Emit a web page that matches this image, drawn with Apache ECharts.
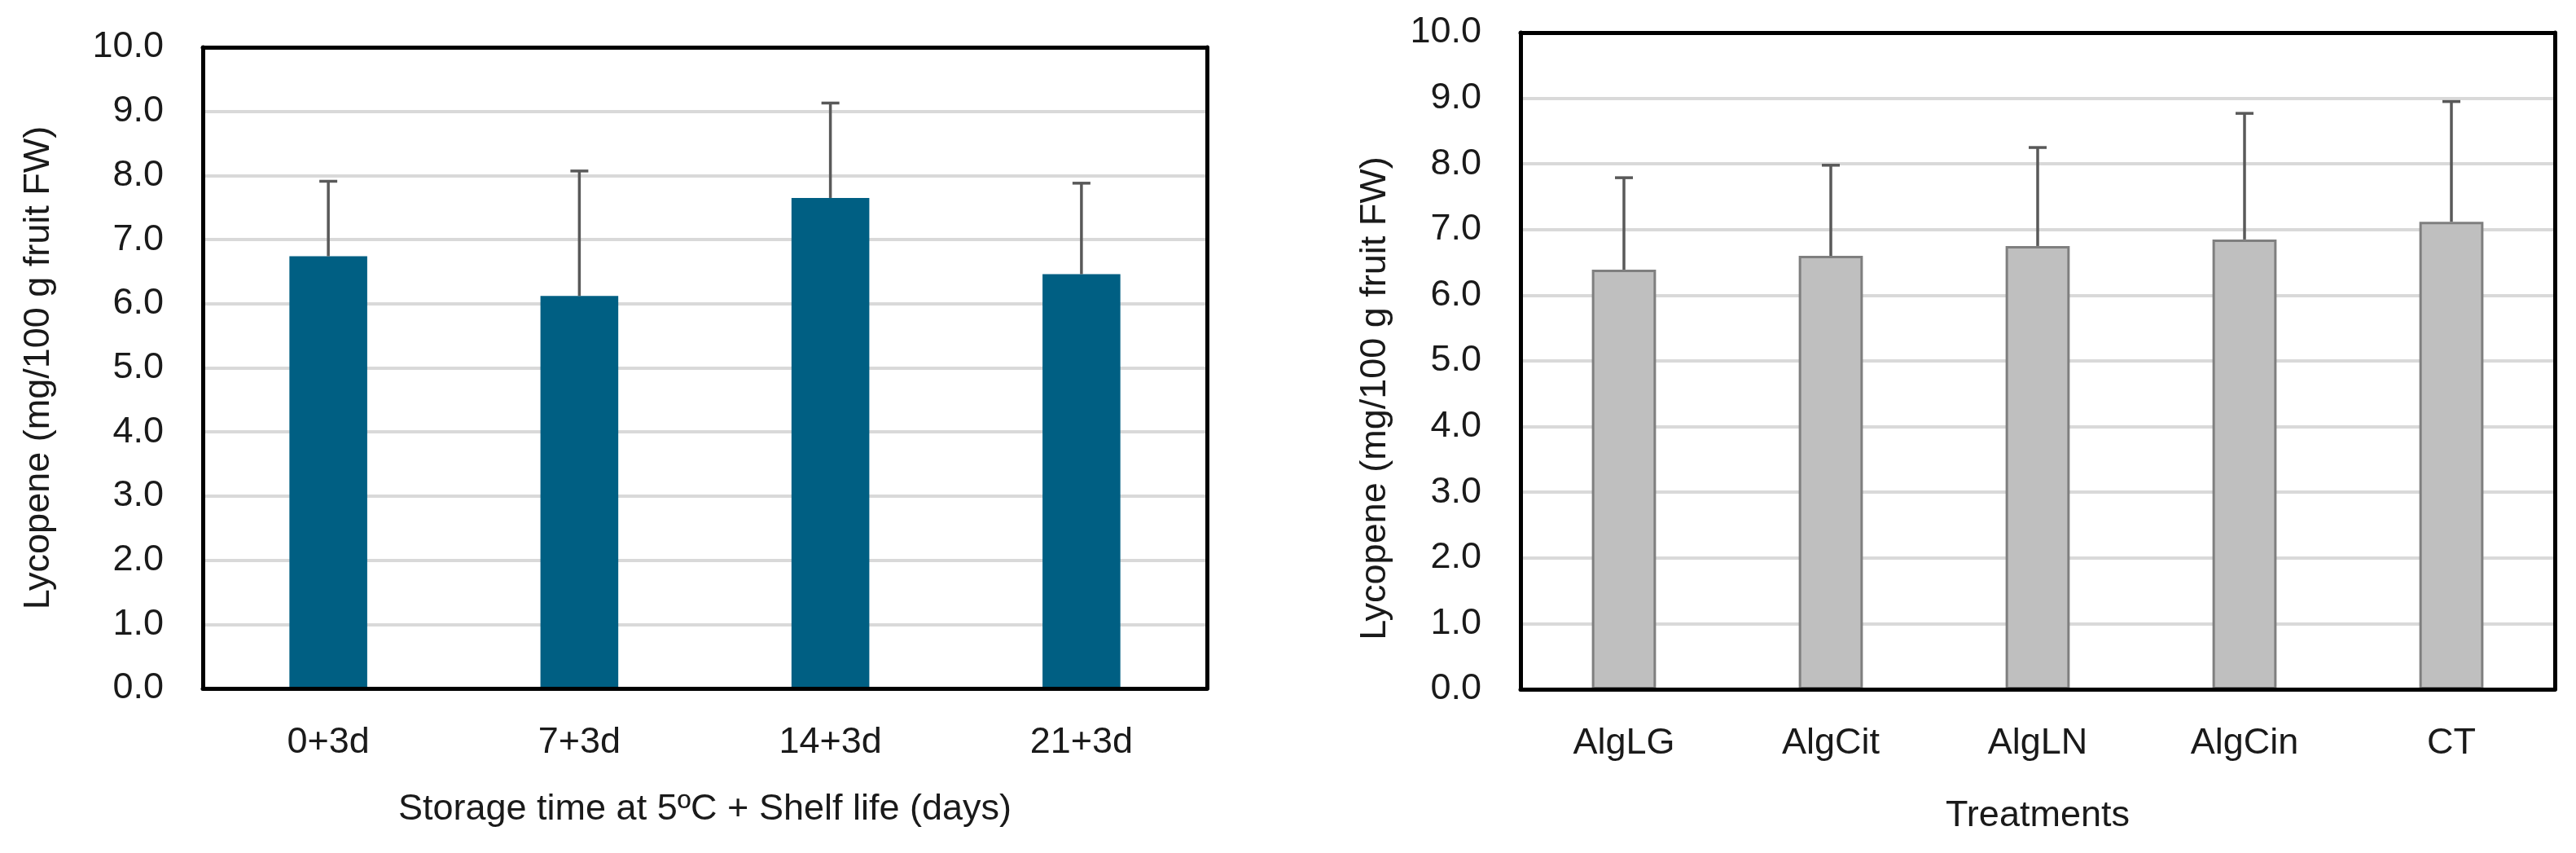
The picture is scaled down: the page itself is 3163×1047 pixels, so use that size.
<!DOCTYPE html>
<html>
<head>
<meta charset="utf-8">
<script src="https://cdn.jsdelivr.net/npm/echarts@6/dist/echarts.min.js"></script>
<style>
html,body{margin:0;padding:0;background:#fff;}
#c{width:3163px;height:1047px;}
</style>
</head>
<body>
<div id="c"></div>
<script>
// ---- data ----
var storageCats = ['0+3d', '7+3d', '14+3d', '21+3d'];
var storageMeans = [6.74, 6.12, 7.65, 6.46];
var storageSD = [1.17, 1.95, 1.48, 1.42];

var treatCats = ['AlgLG', 'AlgCit', 'AlgLN', 'AlgCin', 'CT'];
var treatMeans = [6.39, 6.60, 6.75, 6.85, 7.12];
var treatSD = [1.40, 1.38, 1.50, 1.92, 1.83];

var yTicks = ['0.0','1.0','2.0','3.0','4.0','5.0','6.0','7.0','8.0','9.0','10.0'];
var yTitle = 'Lycopene (mg/100 g fruit FW)';
var xTitleLeft = 'Storage time at 5ºC + Shelf life (days)';
var xTitleRight = 'Treatments';

// ---- chart ----
var FONT = '"Liberation Sans", Arial, sans-serif';
var TXT = '#1a1a1a';
var BORDER = { show: true, onZero: false, lineStyle: { color: '#000', width: 5 } };

function errData(means, sd) {
  return means.map(function (m, i) { return [i, m, m + sd[i]]; });
}
function errRender(params, api) {
  var x = api.value(0);
  var p0 = api.coord([x, api.value(1)]);
  var p1 = api.coord([x, api.value(2)]);
  var half = 11;
  var st = { stroke: '#595959', lineWidth: 3.5 };
  return {
    type: 'group',
    children: [
      { type: 'line', shape: { x1: p0[0], y1: p0[1], x2: p1[0], y2: p1[1] }, style: st },
      { type: 'line', shape: { x1: p1[0] - half, y1: p1[1], x2: p1[0] + half, y2: p1[1] }, style: st }
    ]
  };
}
function yAxisCfg(gridIndex, nameGap, pad) {
  return {
    type: 'value', gridIndex: gridIndex, min: 0, max: 10, interval: 1,
    name: yTitle, nameLocation: 'middle', nameGap: nameGap, nameRotate: 90,
    nameTextStyle: { fontFamily: FONT, fontSize: 45, color: TXT, lineHeight: 50, padding: pad },
    axisLine: BORDER, axisTick: { show: false },
    axisLabel: { fontFamily: FONT, fontSize: 45, color: TXT, margin: 48,
      formatter: function (v) { return yTicks[Math.round(v)]; } },
    splitLine: { show: true, lineStyle: { color: '#d9d9d9', width: 4 } }
  };
}
function yAxisRight(gridIndex) {
  return {
    type: 'value', gridIndex: gridIndex, min: 0, max: 10, interval: 1, position: 'right',
    axisLine: BORDER, axisTick: { show: false }, axisLabel: { show: false },
    splitLine: { show: false }, z: 3
  };
}
function xAxisCfg(gridIndex, cats, name, nameGap) {
  return {
    type: 'category', gridIndex: gridIndex, data: cats, position: 'bottom',
    name: name, nameLocation: 'middle', nameGap: nameGap,
    nameTextStyle: { fontFamily: FONT, fontSize: 45, color: TXT, lineHeight: 50 },
    axisLine: BORDER, z: 3,
    axisTick: { show: false },
    axisLabel: { fontFamily: FONT, fontSize: 45, color: TXT, margin: 42, lineHeight: 50 },
    splitLine: { show: false }
  };
}
function xAxisTop(gridIndex, cats) {
  return {
    type: 'category', gridIndex: gridIndex, data: cats, position: 'top',
    axisLine: BORDER, axisTick: { show: false }, axisLabel: { show: false },
    splitLine: { show: false }, z: 3
  };
}

var chart = echarts.init(document.getElementById('c'), null, { renderer: 'canvas' });
chart.setOption({
  backgroundColor: '#fff',
  animation: false,
  grid: [
    { left: 249, top: 58, width: 1233, height: 787, containLabel: false },
    { left: 1867, top: 40, width: 1270, height: 806, containLabel: false }
  ],
  xAxis: [
    xAxisCfg(0, storageCats, xTitleLeft, 124),
    xAxisCfg(1, treatCats, xTitleRight, 131),
    xAxisTop(0, storageCats),
    xAxisTop(1, treatCats)
  ],
  yAxis: [
    yAxisCfg(0, 176, [0, 0, 0, 0]),
    yAxisCfg(1, 153, [0, 92, 0, 0]),
    yAxisRight(0),
    yAxisRight(1)
  ],
  series: [
    { type: 'bar', xAxisIndex: 0, yAxisIndex: 0, data: storageMeans, barWidth: '31%',
      itemStyle: { color: '#005f83' } },
    { type: 'custom', xAxisIndex: 0, yAxisIndex: 0, data: errData(storageMeans, storageSD),
      renderItem: errRender, z: 3 },
    { type: 'bar', xAxisIndex: 1, yAxisIndex: 1, data: treatMeans, barWidth: '31%',
      itemStyle: { color: '#bfbfbf', borderColor: '#7f7f7f', borderWidth: 3 } },
    { type: 'custom', xAxisIndex: 1, yAxisIndex: 1, data: errData(treatMeans, treatSD),
      renderItem: errRender, z: 3 }
  ]
});
</script>
</body>
</html>
